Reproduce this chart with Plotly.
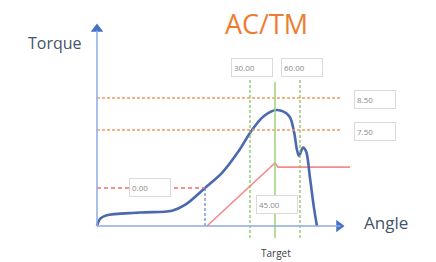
import plotly.graph_objects as go

# ---- data (angle in deg, torque in schematic units) ----
curve_angle = [-61.8, -60, -56.4, -36, -16.8, -9, 3, 13.2, 22.8, 31.2, 38.4, 46.2, 53.4,
               56.4, 58.2, 59.4, 61.8, 63.6, 66, 68.4, 70.2]
curve_torque = [4.5, 4.72, 4.83, 4.92, 4.98, 5.16, 5.69, 6.16, 6.81, 7.5, 7.94, 8.125, 7.94,
                7.44, 6.875, 6.69, 6.95, 6.84, 6.0, 5.06, 4.5]
meas_angle = [4.2, 45, 46.8, 90]
meas_torque = [4.5, 6.47, 6.34, 6.34]

origin_angle = -61.8
origin_torque = 4.5
axis_x_end = 86.4
axis_y_end = 10.81

torque_limits = [8.5, 7.5]
torque_limit_labels = ["8.50", "7.50"]
angle_limits = [30, 60]
angle_limit_labels = ["30.00", "60.00"]
target_angle = 45
target_label = "45.00"
threshold_torque = 5.69
threshold_angle = 3
threshold_label = "0.00"

fig = go.Figure()

# horizontal torque limits
for t in torque_limits:
    fig.add_shape(type="line", x0=origin_angle, x1=85.2, y0=t, y1=t,
                  line=dict(color="#F29B62", width=1.3, dash="3px,2px"))
# vertical angle limits
for a in angle_limits:
    fig.add_shape(type="line", x0=a, x1=a, y0=4.125, y1=9.125,
                  line=dict(color="#7FBF5A", width=1.2, dash="3px,2px"))
# target
fig.add_shape(type="line", x0=target_angle, x1=target_angle, y0=4.125, y1=9.0,
              line=dict(color="#9CD27A", width=1.5))
# threshold
fig.add_shape(type="line", x0=origin_angle, x1=threshold_angle, y0=threshold_torque, y1=threshold_torque,
              line=dict(color="#F56B6B", width=1.5, dash="4px,3px"))
fig.add_shape(type="line", x0=threshold_angle, x1=threshold_angle, y0=origin_torque, y1=threshold_torque,
              line=dict(color="#5B82CF", width=1.2, dash="3px,2px"))
# axes
fig.add_shape(type="line", x0=origin_angle, x1=axis_x_end - 2, y0=origin_torque, y1=origin_torque,
              line=dict(color="#8FAAE0", width=1.5))
fig.add_shape(type="line", x0=origin_angle, x1=origin_angle, y0=origin_torque, y1=axis_y_end - 0.2,
              line=dict(color="#8FAAE0", width=1.5))

fig.add_trace(go.Scatter(x=meas_angle, y=meas_torque, mode="lines",
                         line=dict(color="#F88A8A", width=1.6), hoverinfo="skip"))
fig.add_trace(go.Scatter(x=curve_angle, y=curve_torque, mode="lines",
                         line=dict(color="#4A69AE", width=2.6, shape="spline", smoothing=1.0),
                         hoverinfo="skip"))
# arrowheads
fig.add_trace(go.Scatter(x=[axis_x_end - 3], y=[origin_torque], mode="markers",
                         marker=dict(symbol="triangle-right", size=11, color="#4472C4"), hoverinfo="skip"))
fig.add_trace(go.Scatter(x=[origin_angle], y=[axis_y_end - 0.15], mode="markers",
                         marker=dict(symbol="triangle-up", size=11, color="#4472C4"), hoverinfo="skip"))

box = dict(showarrow=False, bgcolor="white", bordercolor="#DADADA", borderwidth=1, borderpad=2,
           width=36, height=13, align="left", font=dict(family="Open Sans", size=8, color="#8A8A8A"))

for a, lab in zip(angle_limits, angle_limit_labels):
    fig.add_annotation(x=a, y=9.45, text=lab, xshift=2, **box)
for t, lab in zip(torque_limits, torque_limit_labels):
    fig.add_annotation(x=105.2, y=t, text=lab, yshift=-1, **box)
fig.add_annotation(x=-30.3, y=threshold_torque, text=threshold_label, **box)
fig.add_annotation(x=target_angle, y=5.16, text=target_label, xshift=2, **box)

fig.add_annotation(x=39.6, y=10.84, text="AC/TM", showarrow=False,
                   font=dict(family="Open Sans", size=27, color="#ED7D31"))
fig.add_annotation(x=-87, y=10.22, text="Torque", showarrow=False,
                   font=dict(family="Open Sans", size=16, color="#44546A"))
fig.add_annotation(x=111.6, y=4.62, text="Angle", showarrow=False,
                   font=dict(family="Open Sans", size=17, color="#44546A"))
fig.add_annotation(x=target_angle + 0.6, y=3.66, text="Target", showarrow=False,
                   font=dict(family="Open Sans", size=10, color="#404040"))

fig.update_layout(
    width=436, height=262, margin=dict(l=0, r=0, t=0, b=0),
    paper_bgcolor="white", plot_bgcolor="white", showlegend=False,
    xaxis=dict(range=[-120, 141.6], visible=False, fixedrange=True),
    yaxis=dict(range=[3.375, 11.5625], visible=False, fixedrange=True),
)
fig.write_html("out.html", config={"displayModeBar": False},
               post_script="document.body.style.margin='0px';document.body.style.overflow='hidden';")
